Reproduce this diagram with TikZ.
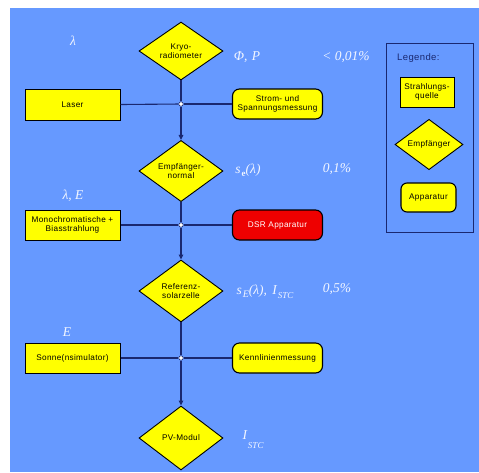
\documentclass[tikz,border=0pt]{standalone}
\usepackage{fontspec}
\setmainfont{Liberation Sans}[LetterSpace=4]
\newfontfamily\serf{Liberation Serif}
\usetikzlibrary{shapes.geometric,arrows.meta}
\definecolor{bgblue}{HTML}{6699FF}
\definecolor{navy}{HTML}{1A2870}
\definecolor{yel}{HTML}{FFFF00}
\definecolor{labc}{HTML}{F2F6FF}
\definecolor{dsr}{HTML}{EE0000}
\begin{document}
\begin{tikzpicture}[x=1pt,y=-1pt,
  txt/.style={font=\fontsize{8.2}{9.4}\selectfont, align=center, text=black},
  src/.style={txt, draw=black, fill=yel, line width=1pt, minimum width=95, minimum height=31, inner sep=1},
  app/.style={txt, draw=black, fill=yel, line width=1.1pt, rounded corners=7, minimum width=90, minimum height=30, inner sep=1},
  recv/.style={txt, diamond, draw=black, fill=yel, line width=0.9pt, minimum width=84, minimum height=60, inner sep=0},
  junc/.style={circle, draw=navy, fill=white, line width=0.6pt, minimum size=4.5, inner sep=0},
  conn/.style={draw=navy, line width=1.1pt},
  arr/.style={conn, -{Triangle[length=5,width=4.5]}},
  lab/.style={font=\serf\itshape\fontsize{13.5}{14}\selectfont, text=labc, inner sep=0}
]
\useasboundingbox (0,0) rectangle (479,472);
\fill[white] (0,0) rectangle (479,472);
\fill[bgblue] (10,8) rectangle (479,472);

% receivers
\node[recv, minimum height=58] (kryo) at (181,51) {Kryo-\\radiometer};
\node[recv] (emp) at (181,171) {Empfänger-\\normal};
\node[recv, minimum height=62] (ref) at (181,291) {Referenz-\\solarzelle};
\node[recv, minimum height=64] (pv) at (181,438) {PV-Modul};

% sources
\node[src] (laser) at (72.5,104.5) {Laser};
\node[src, minimum height=30] (mono) at (72.5,225) {Monochromatische +\\Biasstrahlung};
\node[src, minimum height=30] (sonne) at (72.5,358) {Sonne(nsimulator)};

% apparatus
\node[app] (strom) at (277.5,104) {Strom- und\\Spannungsmessung};
\node[app, fill=dsr, text=white] (dsrn) at (277.5,225) {DSR Apparatur};
\node[app] (kenn) at (277.5,358) {Kennlinienmessung};

% junctions
\node[junc] (j1) at (181,104) {};
\node[junc] (j2) at (181,225) {};
\node[junc] (j3) at (181,358) {};

% connectors
\draw[conn] (laser.east) -- (j1);
\draw[conn] (j1) -- (strom.west);
\draw[conn] (mono.east) -- (j2);
\draw[conn] (j2) -- (dsrn.west);
\draw[conn] (sonne.east) -- (j3);
\draw[conn] (j3) -- (kenn.west);
\draw[conn] (kryo.south) -- (j1);
\draw[arr] (j1) -- (emp.north);
\draw[conn] (emp.south) -- (j2);
\draw[arr] (j2) -- (ref.north);
\draw[conn] (ref.south) -- (j3);
\draw[arr] (j3) -- (pv.north);

% labels
\node[lab] (l1) at (73,41) {λ};
\node[lab] (l2) at (247,57) {Φ, \kern1pt P};
\node[lab] (l3) at (346,57) {< 0,01\%};
\node[lab] (l4) at (248,170) {s\kern1pt\raisebox{-3pt}{\fontsize{9}{9}\selectfont\upshape\bfseries e}(λ)};
\node[lab] (l5) at (337,169) {0,1\%};
\node[lab] (l6) at (73,196) {λ, E};
\node[lab] (l7) at (265,292) {s\kern1pt\raisebox{-3pt}{\fontsize{10}{10}\selectfont E}(λ), \kern2pt I\kern1pt\raisebox{-4pt}{\fontsize{9}{9}\selectfont STC}};
\node[lab] (l8) at (337,289) {0,5\%};
\node[lab] (l9) at (67,332) {E};
\node[lab] (l10) at (253,440) {I\kern1pt\raisebox{-9pt}{\fontsize{9}{9}\selectfont STC}};

% legend
\draw[navy, line width=1pt] (386,43) rectangle (473,232);
\node[font=\fontsize{9.5}{10}\selectfont, text=navy, anchor=west, inner sep=0] (leg) at (397,58) {Legende:};
\node[src, minimum width=54, minimum height=30] (lsrc) at (427,92) {Strahlungs-\\quelle};
\node[recv, minimum width=68, minimum height=45] (lrecv) at (429,144.5) {Empfänger};
\node[app, minimum width=55, minimum height=29, rounded corners=6] (lapp) at (428.5,197.5) {Apparatur};
\end{tikzpicture}
\end{document}
